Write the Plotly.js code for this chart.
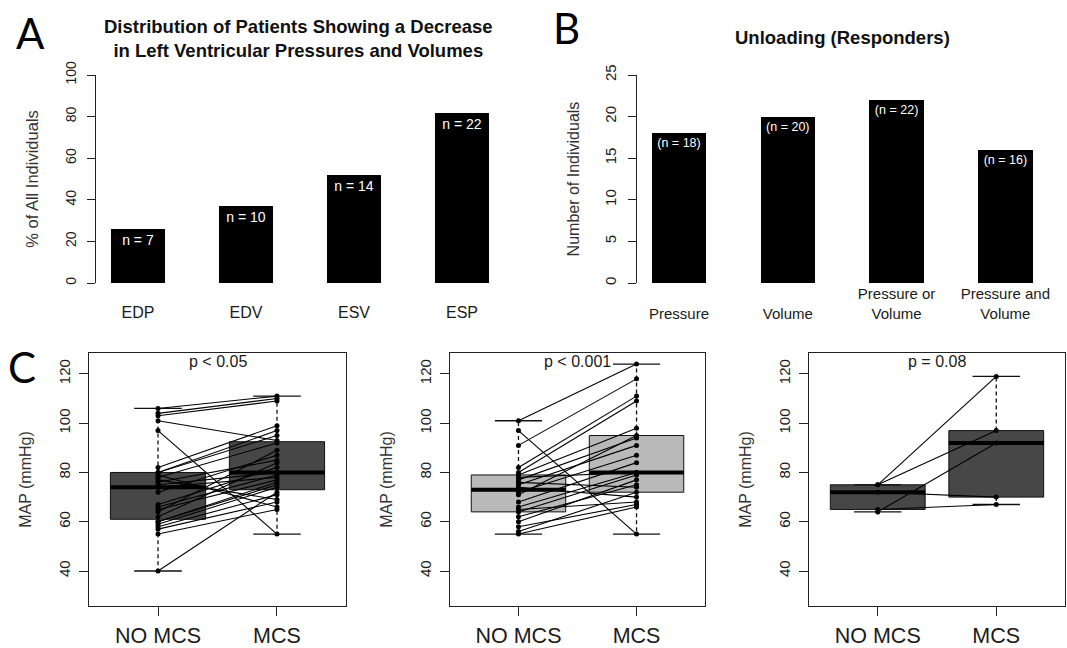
<!DOCTYPE html>
<html><head><meta charset="utf-8">
<script src="https://cdn.plot.ly/plotly-3.0.1.min.js"></script>
<style>html,body{margin:0;padding:0;background:#fff;} #chart{width:1067px;height:648px;}</style>
</head><body><div id="chart"></div>
<script>
// ---------- Panel A data ----------
const catsA = ['EDP', 'EDV', 'ESV', 'ESP'];
const pctA = [25.9, 37.0, 51.9, 81.5];
const labelsA = ['n = 7', 'n = 10', 'n = 14', 'n = 22'];
const ticksA = [0, 20, 40, 60, 80, 100];

// ---------- Panel B data ----------
const catsB = ['Pressure', 'Volume', 'Pressure or Volume', 'Pressure and Volume'];
const tickTextB = ['\u00a0<br>Pressure', '\u00a0<br>Volume', 'Pressure or<br>Volume', 'Pressure and<br>Volume'];
const countsB = [18, 20, 22, 16];
const labelsB = ['(n = 18)', '(n = 20)', '(n = 22)', '(n = 16)'];
const ticksB = [0, 5, 10, 15, 20, 25];

// ---------- Panel C data (paired MAP, mmHg) ----------
const groupsC = ['NO MCS', 'MCS'];
const ticksC = [40, 60, 80, 100, 120];
const noMCS1 = [106, 104, 103, 101, 97, 82, 80, 80, 79, 78, 77, 76, 75, 74, 72, 67, 66, 65, 64, 62, 60, 60, 59, 58, 57, 55, 40];
const mcs1   = [111, 110, 109, 93, 55, 99, 97, 95, 66, 92, 69, 85, 80, 78, 87, 82, 79, 77, 89, 84, 76, 75, 74, 71, 68, 65, 72];
const noMCS2 = [101, 97, 91, 82, 80, 79, 78, 77, 76, 75, 74, 72, 71, 68, 66, 65, 64, 62, 60, 58, 56, 55];
const mcs2   = [124, 55, 118, 111, 109, 98, 80, 94, 74, 91, 70, 87, 95, 84, 80, 68, 79, 75, 77, 67, 72, 66];
const noMCS3 = [75, 75, 64, 72, 65];
const mcs3   = [119, 97, 92, 70, 67];
const pvals = ['p < 0.05', 'p < 0.001', 'p = 0.08'];

// ---------- helpers ----------
const W = 1067, H = 648;
const fx = p => p / W;
const fy = p => 1 - p / H;
const FONT = 'Liberation Sans, Arial, sans-serif';
const TXT = '#1a1a1a';

function fivenum(arr) {
  const x = [...arr].sort((a, b) => a - b);
  const n = x.length;
  const n4 = Math.floor((n + 3) / 2) / 2;
  const d = [1, n4, (n + 1) / 2, n + 1 - n4, n];
  return d.map(v => 0.5 * (x[Math.floor(v) - 1] + x[Math.ceil(v) - 1]));
}
function whisk(arr, f) {
  const iqr = f[3] - f[1];
  return [Math.min(...arr.filter(v => v >= f[1] - 1.5 * iqr)),
          Math.max(...arr.filter(v => v <= f[3] + 1.5 * iqr))];
}

const traces = [];
// Panel A bars
traces.push({
  type: 'bar', x: catsA, y: pctA, xaxis: 'x', yaxis: 'y', width: 0.5,
  marker: {color: '#000'}, text: labelsA, textposition: 'inside', insidetextanchor: 'end',
  textangle: 0, textfont: {color: '#fff', size: 14, family: FONT}, hoverinfo: 'x+y', showlegend: false
});
// Panel B bars
traces.push({
  type: 'bar', x: catsB, y: countsB, xaxis: 'x2', yaxis: 'y2', width: 0.5,
  marker: {color: '#000'}, text: labelsB, textposition: 'inside', insidetextanchor: 'end',
  textangle: 0, textfont: {color: '#fff', size: 12.5, family: FONT}, hoverinfo: 'x+y', showlegend: false
});

// Panel C
const sets = [[noMCS1, mcs1, '#474747'], [noMCS2, mcs2, '#b9b9b9'], [noMCS3, mcs3, '#474747']];
sets.forEach((s, i) => {
  const xa = 'x' + (i + 3), ya = 'y' + (i + 3);
  const f0 = fivenum(s[0]), f1 = fivenum(s[1]);
  const w0 = whisk(s[0], f0), w1 = whisk(s[1], f1);
  traces.push({
    type: 'box', xaxis: xa, yaxis: ya, x: [1, 2],
    q1: [f0[1], f1[1]], median: [f0[2], f1[2]], q3: [f0[3], f1[3]],
    lowerfence: [f0[1], f1[1]], upperfence: [f0[3], f1[3]],
    width: 0.8, whiskerwidth: 0, boxpoints: false, fillcolor: s[2],
    line: {color: '#111', width: 1}, showlegend: false, hoverinfo: 'skip'
  });
  // dashed whiskers
  traces.push({
    type: 'scatter', mode: 'lines', xaxis: xa, yaxis: ya, showlegend: false, hoverinfo: 'skip',
    x: [1, 1, null, 1, 1, null, 2, 2, null, 2, 2],
    y: [f0[3], w0[1], null, f0[1], w0[0], null, f1[3], w1[1], null, f1[1], w1[0]],
    line: {color: '#111', width: 1.3, dash: '4px,3px'}
  });
  // staples
  traces.push({
    type: 'scatter', mode: 'lines', xaxis: xa, yaxis: ya, showlegend: false, hoverinfo: 'skip',
    x: [0.8, 1.2, null, 0.8, 1.2, null, 1.8, 2.2, null, 1.8, 2.2],
    y: [w0[1], w0[1], null, w0[0], w0[0], null, w1[1], w1[1], null, w1[0], w1[0]],
    line: {color: '#111', width: 1.3}
  });
  // thick medians
  traces.push({
    type: 'scatter', mode: 'lines', xaxis: xa, yaxis: ya, showlegend: false, hoverinfo: 'skip',
    x: [0.6, 1.4, null, 1.6, 2.4], y: [f0[2], f0[2], null, f1[2], f1[2]],
    line: {color: '#000', width: 4}
  });
  // paired lines
  const px = [], py = [];
  s[0].forEach((v, j) => { px.push(1, 2, null); py.push(v, s[1][j], null); });
  traces.push({
    type: 'scatter', mode: 'lines+markers', xaxis: xa, yaxis: ya, showlegend: false,
    x: px, y: py, line: {color: '#000', width: 1.1}, marker: {color: '#000', size: 5}
  });
});

const baseY = {
  showgrid: false, zeroline: false, showline: true, linecolor: '#222', linewidth: 1,
  ticks: 'outside', ticklen: 8, tickcolor: '#222', tickangle: -90,
  tickfont: {size: 14, color: TXT, family: FONT}
};
const layout = {
  width: W, height: H, margin: {l: 0, r: 0, t: 0, b: 0},
  paper_bgcolor: '#fff', plot_bgcolor: 'rgba(0,0,0,0)',
  font: {family: FONT, color: TXT}, showlegend: false, bargap: 0,
  xaxis: {domain: [fx(96), fx(520)], range: [-0.389, 3.537], type: 'category', anchor: 'y',
    showline: false, ticks: '', showgrid: false, zeroline: false, ticklabelstandoff: 18,
    tickfont: {size: 16, color: TXT, family: FONT}},
  yaxis: Object.assign({}, baseY, {domain: [fy(283), fy(75)], range: [0, 100], anchor: 'x',
    tickvals: ticksA, ticklabelstandoff: 5,
    title: {text: '% of All Individuals', font: {size: 16.5, color: '#333'}, standoff: 20}}),
  xaxis2: {domain: [fx(637), fx(1060)], range: [-0.386, 3.502], type: 'category', anchor: 'y2',
    showline: false, ticks: '', showgrid: false, zeroline: false, ticklabelstandoff: 0,
    tickvals: catsB, ticktext: tickTextB,
    tickfont: {size: 15, color: TXT, family: FONT}},
  yaxis2: Object.assign({}, baseY, {domain: [fy(283), fy(75)], range: [0, 25], anchor: 'x2',
    tickvals: ticksB, ticklabelstandoff: 6, tickfont: {size: 15, color: TXT, family: FONT},
    title: {text: 'Number of Individuals', font: {size: 16, color: '#333'}, standoff: 18}}),
  annotations: [
    {text: 'A', xref: 'paper', yref: 'paper', x: fx(30), y: fy(33), showarrow: false,
     font: {family: 'Lato, Open Sans, sans-serif', size: 42, color: '#000'}, xanchor: 'center', yanchor: 'middle'},
    {text: 'B', xref: 'paper', yref: 'paper', x: fx(566), y: fy(28), showarrow: false,
     font: {family: 'Lato, Open Sans, sans-serif', size: 42, color: '#000'}, xanchor: 'center', yanchor: 'middle'},
    {text: 'C', xref: 'paper', yref: 'paper', x: fx(22), y: fy(367), showarrow: false,
     font: {family: 'Lato, Open Sans, sans-serif', size: 42, color: '#000'}, xanchor: 'center', yanchor: 'middle'},
    {text: '<b>Distribution of Patients Showing a Decrease<br>in Left Ventricular Pressures and Volumes</b>',
     xref: 'paper', yref: 'paper', x: fx(298), y: fy(38), showarrow: false, align: 'center',
     font: {size: 18.5, color: '#111'}, xanchor: 'center', yanchor: 'middle'},
    {text: '<b>Unloading (Responders)</b>', xref: 'paper', yref: 'paper', x: fx(842), y: fy(37),
     showarrow: false, font: {size: 18.5, color: '#111'}, xanchor: 'center', yanchor: 'middle'}
  ]
};
const domC = [[89, 346], [450, 705], [809, 1065]];
domC.forEach((d, i) => {
  const k = i + 3;
  layout['xaxis' + k] = {domain: [fx(d[0]), fx(d[1])], range: [0.42, 2.58], anchor: 'y' + k,
    showgrid: false, zeroline: false, showline: true, mirror: true, linecolor: '#222', linewidth: 1,
    ticks: 'outside', ticklen: 9, tickcolor: '#222', tickvals: [1, 2], ticktext: groupsC,
    ticklabelstandoff: 1, tickfont: {size: 21.5, color: TXT, family: FONT}};
  layout['yaxis' + k] = Object.assign({}, baseY, {domain: [fy(606), fy(353)], range: [25.8, 128.5],
    anchor: 'x' + k, mirror: true, ticklen: 9, tickvals: ticksC, ticklabelstandoff: 3,
    tickfont: {size: 15, color: TXT, family: FONT},
    title: {text: 'MAP (mmHg)', font: {size: 16, color: '#333'}, standoff: 20}});
  layout.annotations.push({text: pvals[i], xref: 'x' + k, yref: 'y' + k, x: 1.5, y: 124.9,
    showarrow: false, font: {size: 16, color: TXT}, xanchor: 'center', yanchor: 'middle'});
});

Plotly.newPlot('chart', traces, layout, {displayModeBar: false, staticPlot: true});
</script>
</body></html>
